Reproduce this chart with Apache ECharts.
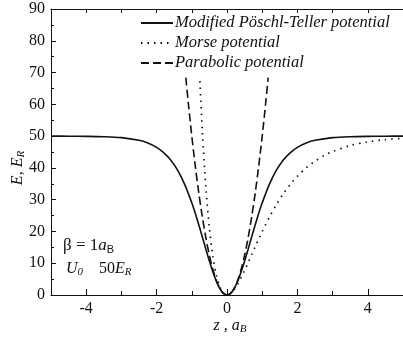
<!DOCTYPE html>
<html><head><meta charset="utf-8">
<script src="https://cdn.jsdelivr.net/npm/echarts@6/dist/echarts.min.js"></script>
<style>html,body{margin:0;padding:0;background:#fff}#c{width:403px;height:339px}</style>
</head><body><div id="c"></div>
<script>
// Modified Pöschl-Teller potential (z, E)
const ptZ = [-5,-4.5,-4,-3.5,-3,-2.5,-2.25,-2,-1.8,-1.6,-1.4,-1.2,-1,-0.9,-0.8,-0.7,-0.6,-0.5,-0.4,-0.3,-0.2,-0.1,0,0.1,0.2,0.3,0.4,0.5,0.6,0.7,0.8,0.9,1,1.2,1.4,1.6,1.8,2,2.25,2.5,3,3.5,4,4.5,5];
const ptE = [49.99,49.97,49.93,49.82,49.51,48.67,47.83,46.47,44.82,42.48,39.20,34.75,29.00,25.65,22.04,18.26,14.42,10.68,7.22,4.24,1.95,0.50,0,0.50,1.95,4.24,7.22,10.68,14.42,18.26,22.04,25.65,29.00,34.75,39.20,42.48,44.82,46.47,47.83,48.67,49.51,49.82,49.93,49.97,49.99];
// Morse potential
const morseZ = [-0.77,-0.7,-0.6,-0.5,-0.4,-0.3,-0.2,-0.1,0,0.1,0.2,0.3,0.4,0.5,0.6,0.7,0.8,0.9,1,1.2,1.4,1.6,1.8,2,2.25,2.5,2.75,3,3.5,4,4.5,5];
const morseE = [67.3,51.39,33.79,21.04,12.09,6.12,2.45,0.55,0,0.45,1.64,3.36,5.43,7.74,10.18,12.67,15.16,17.61,19.98,24.42,28.38,31.85,34.84,37.38,40.02,42.13,43.81,45.15,47.03,48.19,48.90,49.33];
// Parabolic potential
const parZ = [-1.17,-1.1,-1,-0.9,-0.8,-0.7,-0.6,-0.5,-0.4,-0.3,-0.2,-0.1,0,0.1,0.2,0.3,0.4,0.5,0.6,0.7,0.8,0.9,1,1.1,1.17];
const parE = [68.4,60.5,50,40.5,32,24.5,18,12.5,8,4.5,2,0.5,0,0.5,2,4.5,8,12.5,18,24.5,32,40.5,50,60.5,68.4];

const xMajor = [-4,-2,0,2,4];
const xMinor = [-5,-3,-1,1,3,5];
const xAll = [-5,-4,-3,-2,-1,0,1,2,3,4,5];

const names = ['Modified Pöschl-Teller potential','Morse potential','Parabolic potential'];
const zip = (a,b)=>a.map((v,i)=>[v,b[i]]);
const serif = '"Liberation Serif","DejaVu Serif",serif';
const ink = '#111';

const chart = echarts.init(document.getElementById('c'));
const xBase = {type:'value', min:-5, max:5, interval:1, gridIndex:0};
chart.setOption({
  animation:false,
  backgroundColor:'#fff',
  grid:{left:51, top:9, right:-6, bottom:44, show:false},
  legend:{
    orient:'vertical', left:140, top:13, padding:0, itemWidth:32, itemHeight:12, itemGap:0,
    itemStyle:{opacity:0},
    textStyle:{fontFamily:serif, fontStyle:'italic', fontSize:16.5, lineHeight:20, color:ink, padding:[0,0,0,-3]},
    data:names
  },
  xAxis:[
    Object.assign({}, xBase, {position:'bottom',
      axisLine:{show:true, onZero:false, lineStyle:{color:ink, width:1}},
      axisTick:{show:true, inside:true, length:6, customValues:xMajor, lineStyle:{color:ink}},
      axisLabel:{show:true, customValues:xMajor, fontFamily:serif, fontSize:16, color:ink, margin:6,
        formatter:v=>String(v)},
      splitLine:{show:false}}),
    Object.assign({}, xBase, {position:'bottom',
      axisLine:{show:false},
      axisTick:{show:true, inside:true, length:4, customValues:xMinor, lineStyle:{color:ink}},
      axisLabel:{show:false}, splitLine:{show:false}}),
    Object.assign({}, xBase, {position:'top',
      axisLine:{show:true, onZero:false, lineStyle:{color:ink, width:1}},
      axisTick:{show:true, inside:true, length:4, customValues:xAll, lineStyle:{color:ink}},
      axisLabel:{show:false}, splitLine:{show:false}})
  ],
  yAxis:[{
    type:'value', min:0, max:90, interval:10, position:'left',
    axisLine:{show:true, onZero:false, lineStyle:{color:ink, width:1}},
    axisTick:{show:true, inside:true, length:5, lineStyle:{color:ink}},
    minorTick:{show:true, splitNumber:2, length:3, lineStyle:{color:ink}},
    axisLabel:{fontFamily:serif, fontSize:16, color:ink, margin:6},
    splitLine:{show:false}, minorSplitLine:{show:false}
  }],
  graphic:[
    {type:'text', x:18, y:168, rotation:Math.PI/2, style:{
      text:'{i|E, E}{s|R}', align:'center', verticalAlign:'middle',
      rich:{i:{fontFamily:serif, fontStyle:'italic', fontSize:16, fill:ink},
            s:{fontFamily:serif, fontStyle:'italic', fontSize:11, fill:ink, padding:[7,0,0,0]}}}},
    {type:'text', x:230, y:326, style:{
      text:'{i|z , a}{s|B}', align:'center', verticalAlign:'middle',
      rich:{i:{fontFamily:serif, fontStyle:'italic', fontSize:16, fill:ink},
            s:{fontFamily:serif, fontStyle:'italic', fontSize:11, fill:ink, padding:[7,0,0,0]}}}},
    {type:'text', x:63, y:246, style:{
      text:'{n|β = 1}{i|a}{s|B}', align:'left', verticalAlign:'middle',
      rich:{n:{fontFamily:serif, fontSize:17, fill:ink},
            i:{fontFamily:serif, fontStyle:'italic', fontSize:17, fill:ink},
            s:{fontFamily:'"Liberation Sans",sans-serif', fontSize:11, fill:ink, padding:[7,0,0,0]}}}},
    {type:'text', x:66, y:269, style:{
      text:'{i|U}{s|0}{n|    50}{i|E}{s|R}', align:'left', verticalAlign:'middle',
      rich:{n:{fontFamily:serif, fontSize:16, fill:ink},
            i:{fontFamily:serif, fontStyle:'italic', fontSize:16, fill:ink},
            s:{fontFamily:serif, fontStyle:'italic', fontSize:11, fill:ink, padding:[7,0,0,0]}}}}
  ],
  series:[
    {name:names[0], type:'line', xAxisIndex:0, data:zip(ptZ,ptE), smooth:0.3, symbol:'none', showSymbol:false,
      lineStyle:{color:ink, width:1.6, type:'solid'}, itemStyle:{color:ink}},
    {name:names[1], type:'line', xAxisIndex:0, data:zip(morseZ,morseE), smooth:0.3, symbol:'none', showSymbol:false,
      lineStyle:{color:ink, width:1.7, type:[1.5,5]}, itemStyle:{color:ink}},
    {name:names[2], type:'line', xAxisIndex:0, data:zip(parZ,parE), smooth:0.3, symbol:'none', showSymbol:false,
      lineStyle:{color:ink, width:1.6, type:[8,4]}, itemStyle:{color:ink}}
  ]
});
</script></body></html>
